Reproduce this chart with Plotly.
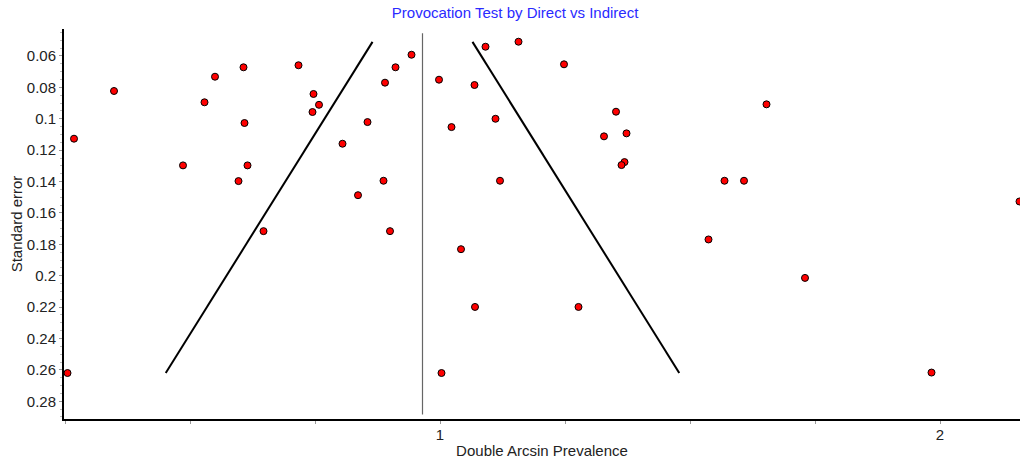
import numpy as np
import plotly.graph_objects as go

# study estimates (double arcsin prevalence) and their standard errors
prevalence = [0.268, 0.348, 0.529, 0.550, 0.607, 0.486, 0.609, 0.615, 0.597, 0.647,
              0.717, 0.747, 0.758, 0.745, 0.255,
              0.943, 0.911, 0.890, 0.855, 0.805, 0.887, 0.836, 0.900,
              0.998, 1.091, 1.157, 1.248, 1.069, 1.111, 1.023, 1.352, 1.328, 1.373,
              1.369, 1.363, 1.120, 1.042, 1.070, 1.277, 1.003,
              1.653, 1.569, 1.608, 2.159, 1.537, 1.730, 1.983]
std_err = [0.1127, 0.0823, 0.0895, 0.0732, 0.0672, 0.1297, 0.1027, 0.1297, 0.1397, 0.1716,
           0.0659, 0.0842, 0.0911, 0.0957, 0.2620,
           0.0592, 0.0672, 0.0770, 0.1021, 0.1159, 0.1395, 0.1487, 0.1716,
           0.0751, 0.0541, 0.0509, 0.0653, 0.0785, 0.1000, 0.1053, 0.0955, 0.1112, 0.1093,
           0.1276, 0.1295, 0.1395, 0.1831, 0.2199, 0.2199, 0.2620,
           0.0908, 0.1395, 0.1395, 0.1527, 0.1769, 0.2014, 0.2617]

pooled = 0.965
se_lo, se_hi = 0.051, 0.262

se_line = np.array([se_lo, se_hi])

fig = go.Figure()

# pooled estimate
fig.add_trace(go.Scatter(x=[pooled, pooled], y=[0.0455, 0.2885], mode='lines',
                         line=dict(color='#666666', width=1.2), hoverinfo='skip'))

# 95% funnel limits
fig.add_trace(go.Scatter(x=pooled - 1.96 * se_line, y=se_line, mode='lines',
                         line=dict(color='black', width=2), hoverinfo='skip'))
fig.add_trace(go.Scatter(x=pooled + 1.96 * se_line, y=se_line, mode='lines',
                         line=dict(color='black', width=2), hoverinfo='skip'))

fig.add_trace(go.Scatter(x=prevalence, y=std_err, mode='markers',
                         marker=dict(color='#ff0000', size=7, line=dict(color='black', width=1))))

fig.update_layout(
    width=1020, height=468,
    margin=dict(l=64, r=0, t=29, b=49),
    plot_bgcolor='white', paper_bgcolor='white',
    showlegend=False,
    font=dict(family='Liberation Sans, Arial, sans-serif', size=15, color='#222222'),
    title=dict(text='Provocation Test by Direct vs Indirect', x=0.505, xanchor='center',
               y=0.985, yanchor='top', font=dict(color='#2a2aff', size=15)),
)

fig.update_xaxes(range=[0.248, 2.16], dtick=1, tick0=0, showgrid=False, zeroline=False,
                 showline=True, linecolor='black', linewidth=2,
                 ticks='outside', ticklen=3, tickcolor='#999999',
                 tickfont=dict(size=15), ticklabelstandoff=-2,
                 minor=dict(dtick=0.25, ticks='outside', ticklen=3, tickcolor='#999999'),
                 title=dict(text='Double Arcsin Prevalence', standoff=3, font=dict(size=15)))

fig.update_yaxes(range=[0.2913, 0.0428], dtick=0.02, tick0=0, showgrid=False, zeroline=False,
                 showline=True, linecolor='black', linewidth=2,
                 ticks='outside', ticklen=3, tickcolor='#999999',
                 tickfont=dict(size=15),
                 minor=dict(dtick=0.005, ticks='outside', ticklen=2, tickcolor='#bbbbbb'),
                 title=dict(text='Standard error', standoff=1, font=dict(size=15)))

# page body has a default margin; drop it so the chart fills the window
fig.write_html("out.html", config={'displayModeBar': False},
               post_script="document.body.style.margin='0';")
